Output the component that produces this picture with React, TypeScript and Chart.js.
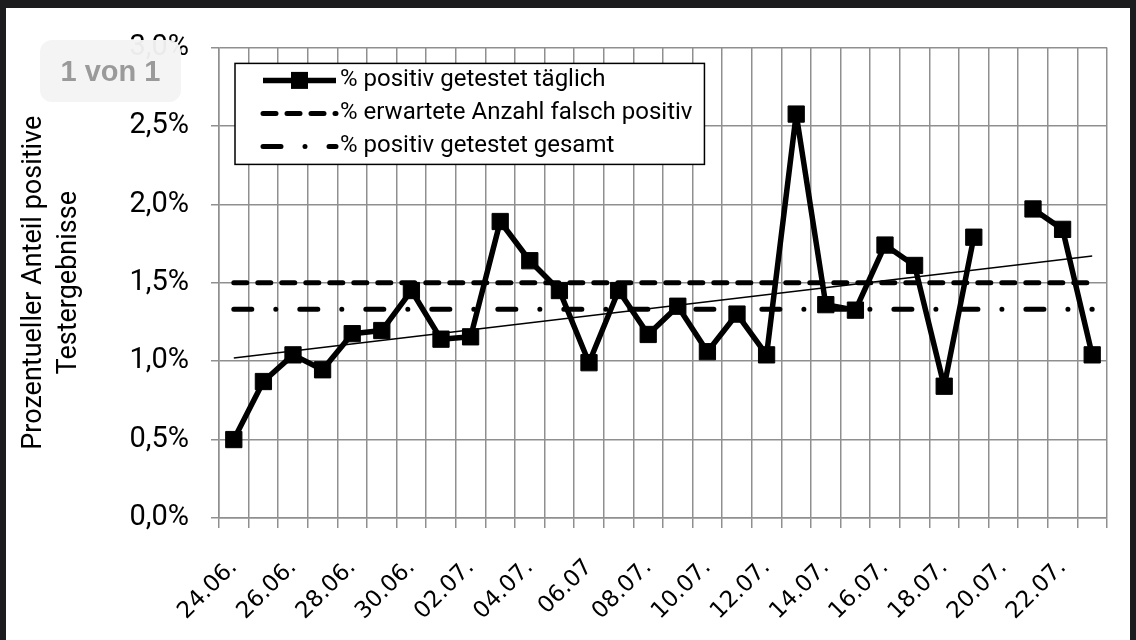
import React, { useEffect, useRef } from 'react';
import { Chart, registerables } from 'chart.js';

Chart.register(...registerables);

// categories (days); the original chart writes "06.07" without the trailing dot
const days = [
    '24.06.', '25.06.', '26.06.', '27.06.', '28.06.', '29.06.', '30.06.',
    '01.07.', '02.07.', '03.07.', '04.07.', '05.07.', '06.07', '07.07.',
    '08.07.', '09.07.', '10.07.', '11.07.', '12.07.', '13.07.', '14.07.',
    '15.07.', '16.07.', '17.07.', '18.07.', '19.07.', '20.07.', '21.07.',
    '22.07.', '23.07.',
];

// % positiv getestet täglich (20.07. has no value)
const positiveDaily = [
    0.50, 0.87, 1.04, 0.945, 1.175, 1.195, 1.45,
    1.14, 1.155, 1.89, 1.64, 1.45, 0.99, 1.45,
    1.17, 1.35, 1.06, 1.30, 1.04, 2.575, 1.36,
    1.325, 1.74, 1.61, 0.84, 1.79, null, 1.97,
    1.84, 1.04,
];

const expectedFalsePositive = 1.5; // % erwartete Anzahl falsch positiv
const positiveTotal = 1.33; // % positiv getestet gesamt
const trendStart = 1.02; // linear trend, first day
const trendEnd = 1.67; // linear trend, last day

const yMin = 0;
const yMax = 3;
const yStep = 0.5;

const narrow = "Roboto, 'Liberation Sans', sans-serif";
const gridGray = '#8f8f8f';

const legendBox = {
    id: 'legendBox',
    afterDatasetsDraw(chart: any) {
        const { ctx, chartArea } = chart;
        const items = chart.data.datasets.filter((d: any) => d.label);
        ctx.save();
        ctx.font = `24px ${narrow}`;
        const left = chartArea.left + 16;
        const top = chartArea.top + 16;
        const rowH = 33;
        const sampleX = left + 28;
        const sampleW = 73;
        const textX = sampleX + sampleW + 4;
        const textW = Math.max(...items.map((d: any) => ctx.measureText(d.label).width));
        const w = textX - left + textW + 12;
        const h = items.length * rowH + 2;
        ctx.fillStyle = '#fff';
        ctx.fillRect(left, top, w, h);
        ctx.lineWidth = 1.5;
        ctx.strokeStyle = '#000';
        ctx.strokeRect(left, top, w, h);
        items.forEach((d: any, i: number) => {
            const y = top + 17 + i * rowH;
            ctx.beginPath();
            ctx.setLineDash(d.borderDash || []);
            ctx.lineCap = d.borderCapStyle || 'butt';
            ctx.lineWidth = d.borderWidth;
            ctx.strokeStyle = d.borderColor;
            ctx.moveTo(sampleX, y);
            ctx.lineTo(sampleX + sampleW, y);
            ctx.stroke();
            ctx.setLineDash([]);
            if (d.pointRadius > 0) {
                const s = 17;
                ctx.fillStyle = '#000';
                ctx.fillRect(sampleX + sampleW / 2 - s / 2, y - s / 2, s, s);
            }
            ctx.fillStyle = '#000';
            ctx.textBaseline = 'middle';
            ctx.fillText(d.label, textX, y);
        });
        ctx.restore();
    },
};

const PositiveChart: React.FC = () => {
    const chartRef = useRef<HTMLCanvasElement | null>(null);

    useEffect(() => {
        const ctx = chartRef.current?.getContext('2d');
        if (!ctx) {
            return;
        }

        const trend = days.map((_, i) => (i === 0 ? trendStart : i === days.length - 1 ? trendEnd : null));

        const myChart = new Chart(ctx, {
            type: 'line',
            data: {
                labels: days,
                datasets: [
                    {
                        label: '% positiv getestet täglich',
                        data: positiveDaily,
                        borderColor: '#000',
                        backgroundColor: '#000',
                        borderWidth: 5.5,
                        borderJoinStyle: 'round',
                        pointStyle: 'rect',
                        pointRadius: 11.5,
                        pointBorderWidth: 1,
                        pointBackgroundColor: '#000',
                        spanGaps: false,
                    },
                    {
                        label: '% erwartete Anzahl falsch positiv',
                        data: days.map(() => expectedFalsePositive),
                        borderColor: '#000',
                        borderWidth: 5,
                        borderDash: [13, 11],
                        borderCapStyle: 'round',
                        pointRadius: 0,
                    },
                    {
                        label: '% positiv getestet gesamt',
                        data: days.map(() => positiveTotal),
                        borderColor: '#000',
                        borderWidth: 5,
                        borderDash: [18, 24, 0.01, 24],
                        borderCapStyle: 'round',
                        pointRadius: 0,
                    },
                    {
                        label: '',
                        data: trend,
                        borderColor: '#000',
                        borderWidth: 1.5,
                        pointRadius: 0,
                        spanGaps: true,
                    },
                ],
            },
            options: {
                animation: false,
                responsive: true,
                maintainAspectRatio: false,
                layout: { padding: { top: 31, right: 23, left: 0, bottom: 0 } },
                plugins: {
                    legend: { display: false },
                    tooltip: { enabled: false },
                },
                scales: {
                    x: {
                        offset: true,
                        grid: {
                            offset: true,
                            color: gridGray,
                            lineWidth: 1.5,
                            tickLength: 10,
                        },
                        border: { color: gridGray, width: 1.5 },
                        ticks: {
                            autoSkip: false,
                            minRotation: 45,
                            maxRotation: 45,
                            padding: 26,
                            color: '#000',
                            font: { family: "'DejaVu Sans', sans-serif", size: 23 },
                            callback: (_v: any, i: number) => (i % 2 === 0 ? days[i] : ''),
                        },
                        title: {
                            display: true,
                            text: 'Datum (2020)',
                            color: '#000',
                            font: { family: narrow, size: 25 },
                            padding: { top: 0, bottom: 17.5 },
                        },
                        afterFit: (scale: any) => {
                            scale.height = 170;
                            scale.paddingLeft = 0;
                            scale.paddingRight = 0;
                        },
                    },
                    y: {
                        min: yMin,
                        max: yMax,
                        grid: {
                            color: gridGray,
                            lineWidth: 1.5,
                            tickLength: 8,
                        },
                        border: { color: gridGray, width: 1.5 },
                        ticks: {
                            stepSize: yStep,
                            padding: 22,
                            color: '#000',
                            font: { family: narrow, size: 29 },
                            callback: (v: any) => Number(v).toFixed(1).replace('.', ',') + '%',
                        },
                        title: {
                            display: true,
                            text: ['Prozentueller Anteil positive', 'Testergebnisse'],
                            color: '#000',
                            font: { family: narrow, size: 27, lineHeight: 1.3 },
                            padding: { top: 11, bottom: 0 },
                        },
                        afterFit: (scale: any) => {
                            scale.width = 213;
                        },
                    },
                },
            },
            plugins: [legendBox],
        } as any);

        return () => {
            myChart.destroy();
        };
    }, []);

    return (
        <div style={{ position: 'relative', width: 1124, height: 680 }}>
            <canvas ref={chartRef} />
        </div>
    );
};

const App: React.FC = () => {
    return (
        <div style={{ position: 'fixed', inset: 0, background: '#1c1c1e', overflow: 'hidden' }}>
            <div
                style={{
                    position: 'absolute',
                    left: 6,
                    top: 8,
                    width: 1124,
                    height: 640,
                    background: '#fff',
                    overflow: 'hidden',
                }}
            >
                <PositiveChart />
            </div>
            <div
                style={{
                    position: 'absolute',
                    left: 40,
                    top: 40,
                    width: 141,
                    height: 62,
                    borderRadius: 12,
                    background: 'rgba(244, 244, 244, 0.96)',
                    color: '#9a9a9a',
                    fontFamily: "'Liberation Sans', Arial, sans-serif",
                    fontWeight: 700,
                    fontSize: 29,
                    display: 'flex',
                    alignItems: 'center',
                    justifyContent: 'center',
                }}
            >
                1 von 1
            </div>
        </div>
    );
};

export default App;
